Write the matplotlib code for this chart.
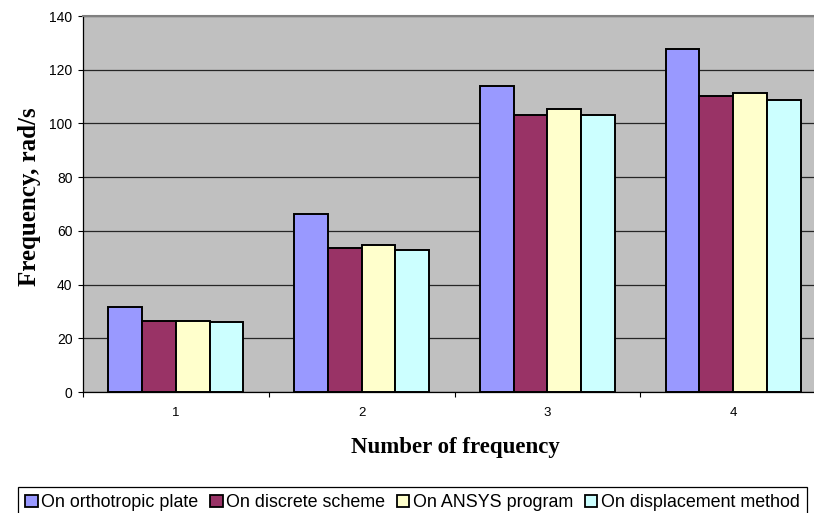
import matplotlib
matplotlib.use("Agg")
import matplotlib.pyplot as plt
from matplotlib.patches import Patch
import numpy as np

# Natural frequencies for the first four modes, by calculation method
categories = ["1", "2", "3", "4"]
series_names = ["On orthotropic plate", "On discrete scheme",
                "On ANSYS program", "On displacement method"]
orthotropic = [31.5, 66.4, 113.8, 127.7]
discrete = [26.4, 53.6, 103.1, 110.1]
ansys = [26.3, 54.6, 105.2, 111.4]
displacement = [26.1, 52.9, 103.1, 108.6]
y_ticks = [0, 20, 40, 60, 80, 100, 120, 140]

colors = ["#9999FF", "#993366", "#FFFFCC", "#CCFFFF"]
values = [orthotropic, discrete, ansys, displacement]

W, H = 814, 513
fig = plt.figure(figsize=(W / 100, H / 100), dpi=100)
ax = fig.add_axes([83 / W, (H - 392) / H, 743 / W, 376 / H])
ax.set_facecolor("#C0C0C0")

x = np.arange(len(categories))
bw = 1 / 5.5
for i, (vals, c) in enumerate(zip(values, colors)):
    ax.bar(x + (i - 1.5) * bw, vals, width=bw, color=c, edgecolor="black",
           linewidth=1.4, zorder=3)

ax.set_xlim(-0.5, len(categories) - 0.5)
ax.set_ylim(0, 140)
ax.set_yticks(y_ticks)
ax.yaxis.grid(True, color="#262626", linewidth=0.9, zorder=1)
ax.set_axisbelow(True)

ax.set_xticks(x)
ax.set_xticklabels(categories, fontsize=9.5, family="Liberation Sans")
ax.set_xticks(np.arange(-0.5, len(categories)), minor=True)
ax.tick_params(axis="x", which="major", length=0, pad=11)
ax.tick_params(axis="x", which="minor", length=3.5, width=0.8, direction="out")
ax.tick_params(axis="y", length=3.6, width=0.8, pad=4, labelsize=10)
for lab in ax.get_yticklabels():
    lab.set_family("Liberation Sans")

for side in ("left", "bottom"):
    ax.spines[side].set_color("black")
    ax.spines[side].set_linewidth(0.9)
ax.spines["top"].set_color("#808080")
ax.spines["top"].set_linewidth(1.5)
ax.spines["right"].set_visible(False)

ax.set_ylabel("Frequency, rad/s", fontsize=18, fontweight="bold",
              family="Liberation Serif")
ax.yaxis.label.set_va("center")
ax.yaxis.set_label_coords((30 - 83) / 743, (392 - 197) / 376)
ax.set_xlabel("Number of frequency", fontsize=16.5, fontweight="bold",
              family="Liberation Serif")
ax.xaxis.label.set_va("center")
ax.xaxis.set_label_coords((455 - 83) / 743, (392 - 447) / 376)

handles = [Patch(facecolor=c, edgecolor="black", linewidth=1.3) for c in colors]
leg = fig.legend(handles, series_names, loc="upper left",
                 bbox_to_anchor=(18 / W, 1 - 487 / H), ncol=4,
                 prop={"family": "Liberation Sans", "size": 12.9},
                 handlelength=0.7, handleheight=0.7, handletextpad=0.2,
                 columnspacing=0.65, borderpad=0.4, borderaxespad=0,
                 fancybox=False, framealpha=1, edgecolor="black")
leg.get_frame().set_linewidth(0.9)

fig.savefig("out.png", dpi=100)
